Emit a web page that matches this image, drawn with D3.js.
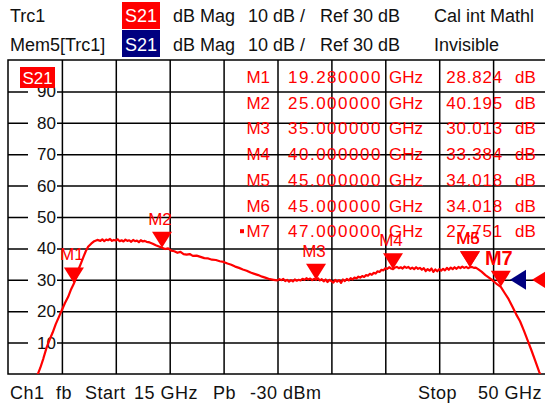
<!DOCTYPE html>
<html>
<head>
<meta charset="utf-8">
<script src="https://cdn.jsdelivr.net/npm/d3@7"></script>
<style>
body { margin: 0; background: #fff; }
svg { display: block; font-family: "Liberation Sans", Arial, sans-serif; }
</style>
</head>
<body>
<svg id="chart" width="545" height="406"></svg>
<script>
// S21 trace, [GHz, dB], split by region
var riseTrace = [[16.9, -0.5], [17.1, 2.0], [17.3, 5.0], [17.5, 8.3], [17.7, 10.9], [17.9, 13.2], [18.1, 15.9], [18.3, 18.1],
  [18.5, 20.4], [18.7, 22.6], [18.9, 24.5], [19.1, 27.0], [19.28, 28.8], [19.45, 31.0], [19.6, 33.6], [19.75, 35.4],
  [19.9, 37.3], [20.05, 39.1], [20.2, 40.5], [20.4, 41.5], [20.6, 42.3], [20.8, 42.7]];
var plateauTrace = [[21.0, 42.4], [21.125, 42.9], [21.25, 42.3], [21.375, 42.8], [21.5, 42.6], [21.625, 43.0], [21.75, 42.4],
  [21.875, 42.7], [22.0, 42.5], [22.125, 42.9], [22.25, 42.3], [22.375, 42.6], [22.5, 42.2], [22.625, 42.8], [22.75, 42.4],
  [22.875, 42.6], [23.0, 42.1], [23.125, 42.7], [23.25, 42.3], [23.375, 42.5], [23.5, 42.0], [23.625, 42.6], [23.75, 42.2],
  [23.875, 42.4], [24.0, 42.1]];
var slopeTrace = [[24.2, 41.9], [24.4, 41.5], [24.6, 41.0], [24.8, 40.6], [25.0, 40.2], [25.2, 39.8], [25.4, 40.0], [25.6, 39.3],
  [25.8, 39.1], [26.0, 38.6], [26.2, 38.9], [26.4, 38.2], [26.6, 38.0], [26.8, 38.2], [27.0, 37.6], [27.25, 37.7], [27.5, 37.3],
  [27.75, 36.9], [28.0, 36.8], [28.25, 36.4], [28.5, 36.3], [28.75, 35.9], [29.0, 35.7], [29.25, 35.2], [29.5, 34.8],
  [29.75, 34.2], [30.0, 33.8], [30.25, 33.3], [30.5, 32.9], [30.75, 32.3], [31.0, 31.9], [31.25, 31.5], [31.5, 31.0],
  [31.75, 30.6], [32.0, 30.2], [32.25, 30.0]];
var flatTrace = [[32.5, 29.8], [32.625, 30.2], [32.75, 29.9], [32.875, 30.3], [33.0, 29.6], [33.125, 30.0], [33.25, 29.4],
  [33.375, 29.9], [33.5, 29.5], [33.625, 30.1], [33.75, 29.7], [33.875, 30.0], [34.0, 29.8], [34.125, 30.3], [34.25, 30.0],
  [34.375, 30.5], [34.5, 30.1], [34.625, 30.4], [34.75, 29.9], [34.875, 30.3], [35.0, 30.0], [35.125, 30.5], [35.25, 29.8],
  [35.375, 30.2], [35.5, 29.5], [35.625, 30.1], [35.75, 29.3], [35.875, 30.0], [36.0, 29.6], [36.125, 29.1], [36.25, 30.0],
  [36.375, 29.4], [36.5, 29.9], [36.625, 29.0], [36.75, 30.1], [36.875, 29.6], [37.0, 30.3], [37.125, 29.8], [37.25, 30.5],
  [37.375, 30.1], [37.5, 30.7], [37.625, 30.4], [37.75, 31.0], [37.875, 30.7], [38.0, 31.2], [38.125, 30.9], [38.25, 31.5],
  [38.375, 31.3], [38.5, 31.9], [38.625, 31.6], [38.75, 32.2], [38.875, 32.0], [39.0, 32.7], [39.125, 32.5], [39.25, 33.2],
  [39.375, 33.0], [39.5, 33.7], [39.625, 33.5], [39.75, 34.0], [39.875, 33.6], [40.0, 33.4], [40.125, 33.9], [40.25, 34.1],
  [40.375, 33.7], [40.5, 34.0], [40.625, 33.6], [40.75, 34.2], [40.875, 33.8], [41.0, 34.1], [41.125, 33.5], [41.25, 33.9],
  [41.375, 33.4], [41.5, 34.0], [41.625, 33.5], [41.75, 33.8], [41.875, 33.2], [42.0, 33.7], [42.125, 32.8], [42.25, 33.4],
  [42.375, 32.9], [42.5, 33.6], [42.625, 32.5], [42.75, 33.3], [42.875, 32.7], [43.0, 33.4], [43.125, 32.9], [43.25, 33.5],
  [43.375, 33.0], [43.5, 33.8], [43.625, 33.2], [43.75, 33.9], [43.875, 33.4], [44.0, 34.0], [44.125, 33.5], [44.25, 34.1],
  [44.375, 33.7], [44.5, 34.2], [44.625, 33.8], [44.75, 34.1], [44.875, 33.7], [45.0, 34.0], [45.125, 34.1], [45.25, 33.8],
  [45.375, 33.9], [45.5, 33.5]];
var rollOffTrace = [[45.75, 32.6], [46.0, 31.5], [46.25, 30.6], [46.5, 29.7], [46.75, 28.6], [47.0, 27.75], [47.25, 25.8],
  [47.5, 23.9], [47.75, 21.5], [48.0, 19.0], [48.25, 16.8], [48.5, 13.8], [48.75, 10.6], [49.0, 7.4], [49.25, 4.0],
  [49.5, 0.6], [49.7, -1.5]];

var markerNames = ['M1', 'M2', 'M3', 'M4', 'M5', 'M6', 'M7'];
var markerFreq = [19.28, 25, 35, 40, 45, 45, 47];
var markerDb = [28.824, 40.195, 30.013, 33.384, 34.018, 34.018, 27.751];

var yTicks = [10, 20, 30, 40, 50, 60, 70, 80, 90];
var xGrid = [18.5, 22, 25.5, 29, 32.5, 36, 39.5, 43, 46.5];

var headRow1 = ['Trc1', 'S21', 'dB Mag', '10 dB /', 'Ref 30 dB', 'Cal int Mathl'];
var headRow2 = ['Mem5[Trc1]', 'S21', 'dB Mag', '10 dB /', 'Ref 30 dB', 'Invisible'];
var footer = ['Ch1', 'fb', 'Start', '15 GHz', 'Pb', '-30 dBm', 'Stop', '50 GHz'];
var refLevel = 30;

var trace = riseTrace.concat(plateauTrace, slopeTrace, flatTrace, rollOffTrace);

var svg = d3.select('#chart');
var red = '#ff0000', navy = '#000080';

var x = d3.scaleLinear().domain([15, 50]).range([8, 547]);
var y = d3.scaleLinear().domain([0, 100]).range([374, 60]);

// header
var headX = [10, null, 173, 248, 320, 434];
[headRow1, headRow2].forEach(function(row, r) {
  var base = r === 0 ? 22 : 51;
  svg.append('rect').attr('x', 122).attr('y', r === 0 ? 2 : 30)
    .attr('width', 38).attr('height', 27).attr('fill', r === 0 ? red : navy);
  row.forEach(function(t, i) {
    var tx = svg.append('text').attr('y', base).attr('font-size', 18).text(t);
    if (i === 1) tx.attr('x', 141).attr('text-anchor', 'middle').attr('fill', '#fff');
    else tx.attr('x', headX[i]).attr('fill', '#111');
  });
});

// grid
var g = svg.append('g');
g.append('g').attr('transform', 'translate(0,374)')
  .call(d3.axisBottom(x).tickValues(xGrid).tickSize(-314).tickFormat(''))
  .call(function(a) { a.select('.domain').remove(); });
g.append('g').attr('transform', 'translate(8,0)')
  .call(d3.axisLeft(y).tickValues(yTicks).tickSize(-539).tickFormat(''))
  .call(function(a) { a.select('.domain').remove(); });
g.selectAll('line').attr('stroke', '#000').attr('stroke-width', 1.5);
g.append('rect').attr('x', x(15)).attr('y', y(100)).attr('width', x(50) - x(15)).attr('height', y(0) - y(100))
  .attr('fill', 'none').attr('stroke', '#000').attr('stroke-width', 1.5);

// y labels sit on the grid lines with a white patch
var yl = svg.append('g');
yTicks.forEach(function(v) {
  yl.append('rect').attr('x', 28).attr('y', y(v) - 8).attr('width', 29).attr('height', 16).attr('fill', '#fff');
  yl.append('text').attr('x', 56).attr('y', y(v) + 6).attr('text-anchor', 'end')
    .attr('font-size', 17).attr('fill', '#111').text(v);
});

svg.append('rect').attr('x', 20).attr('y', 67).attr('width', 35).attr('height', 21).attr('fill', red);
svg.append('text').attr('x', 37.5).attr('y', 84).attr('text-anchor', 'middle')
  .attr('font-size', 17).attr('fill', '#fff').text('S21');

// marker table
var tbl = svg.append('g').attr('fill', red).attr('font-size', 17);
markerNames.forEach(function(m, i) {
  var by = 83 + i * 25.7;
  tbl.append('text').attr('x', 270).attr('y', by).attr('text-anchor', 'end').text(m);
  if (i === 6) tbl.append('rect').attr('x', 240).attr('y', by - 8).attr('width', 4).attr('height', 4);
  tbl.append('text').attr('x', 288).attr('y', by).attr('letter-spacing', 1.5).text(markerFreq[i].toFixed(6));
  tbl.append('text').attr('x', 389).attr('y', by).text('GHz');
  tbl.append('text').attr('x', 503).attr('y', by).attr('text-anchor', 'end').attr('letter-spacing', 0.8).text(markerDb[i].toFixed(3));
  tbl.append('text').attr('x', 515).attr('y', by).text('dB');
});

// ref level arrows
var ry = y(refLevel);
svg.append('polygon').attr('points', [[510, ry], [526, ry - 10], [526, ry + 10]].join(' ')).attr('fill', navy);
svg.append('polygon').attr('points', [[532, ry], [548, ry - 10], [548, ry + 10]].join(' ')).attr('fill', red);

// markers
var mk = svg.append('g').attr('fill', red);
markerNames.forEach(function(m, i) {
  var mx = x(markerFreq[i]), my = y(markerDb[i]);
  mk.append('polygon').attr('points', [[mx - 10, my - 16], [mx + 10, my - 16], [mx, my]].join(' '));
  var lab = mk.append('text').attr('x', mx - 2).attr('y', my - 23).attr('text-anchor', 'middle').text(m);
  if (i === 6) lab.attr('font-size', 20).attr('font-weight', 'bold').attr('y', my - 22);
  else lab.attr('font-size', 17);
});

// trace
svg.append('clipPath').attr('id', 'plot').append('rect')
  .attr('x', x(15)).attr('y', y(100)).attr('width', x(50) - x(15)).attr('height', y(0) - y(100));
var line = d3.line().x(function(d) { return x(d[0]); }).y(function(d) { return y(d[1]); });
svg.append('path').datum(trace).attr('d', line).attr('clip-path', 'url(#plot)')
  .attr('fill', 'none').attr('stroke', red).attr('stroke-width', 2.2).attr('stroke-linejoin', 'round');

// footer
var footX = [10, 56, 85, 134, 213, 250, 418, 542];
footer.forEach(function(t, i) {
  var ft = svg.append('text').attr('x', footX[i]).attr('y', 399).attr('font-size', 18)
    .attr('letter-spacing', 0.5).attr('fill', '#111').text(t);
  if (i === footer.length - 1) ft.attr('text-anchor', 'end');
});
</script>
</body>
</html>
